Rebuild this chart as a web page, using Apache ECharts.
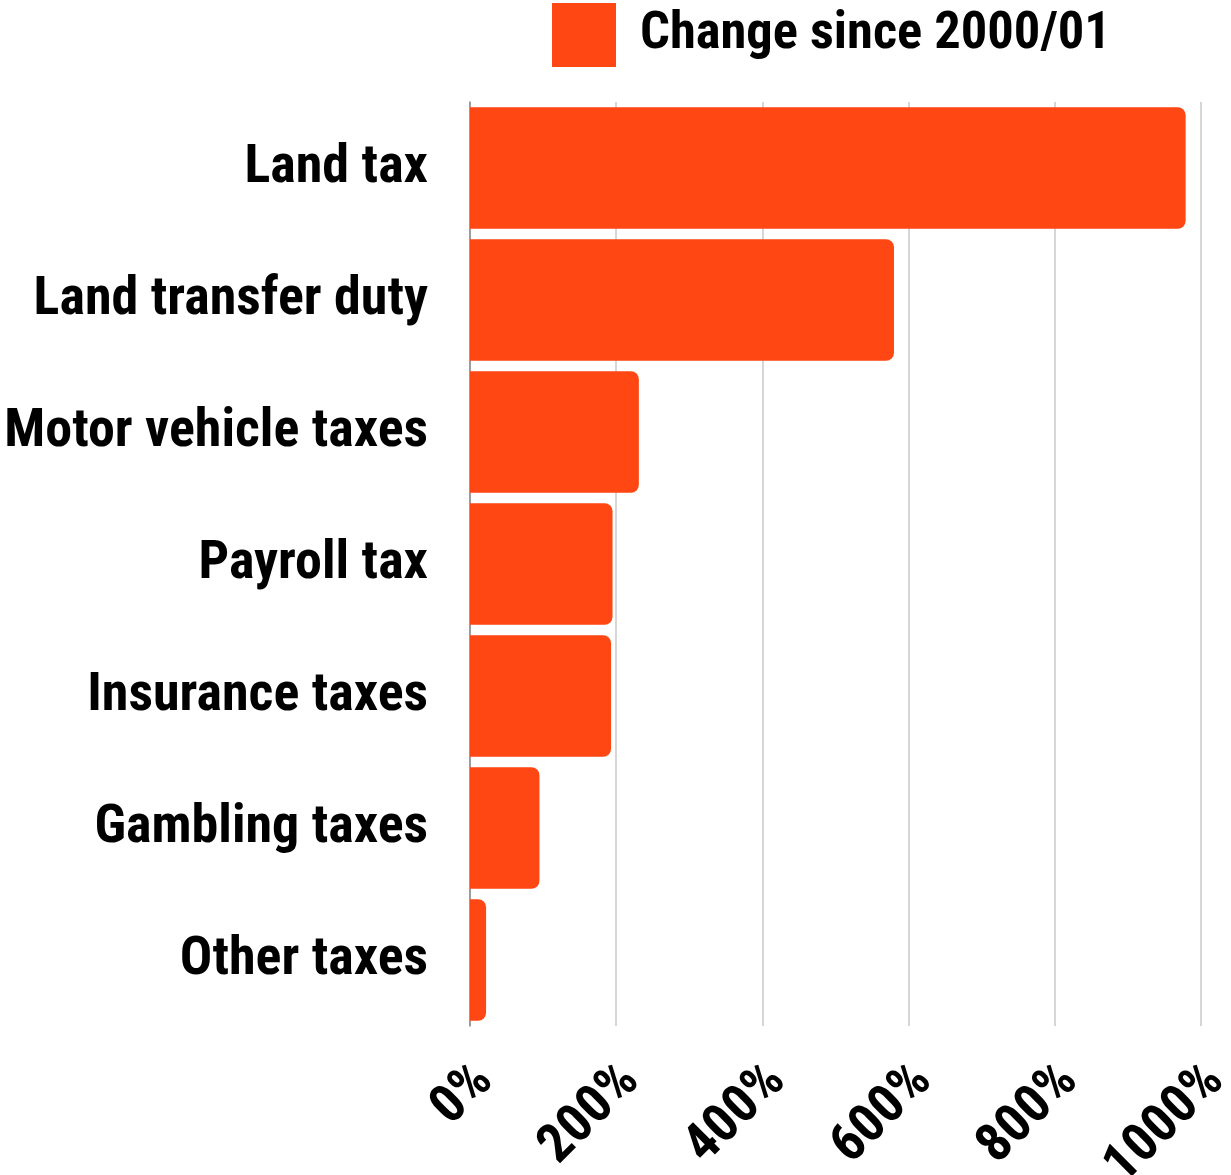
<!DOCTYPE html>
<html>
<head>
<meta charset="utf-8">
<script src="https://cdn.jsdelivr.net/npm/echarts@6/dist/echarts.min.js"></script>
<style>
html,body{margin:0;padding:0;background:#fff;}
#chart{width:1231px;height:1175px;}
</style>
</head>
<body>
<div id="chart"></div>
<script>
const categories = ["Land tax","Land transfer duty","Motor vehicle taxes","Payroll tax","Insurance taxes","Gambling taxes","Other taxes"];
const changeSince2000 = [979, 580, 231, 195, 193, 95, 22];
const seriesName = "Change since 2000/01";

const chart = echarts.init(document.getElementById('chart'), null, {renderer:'canvas'});
const condensed = '"Roboto Condensed","Liberation Sans Narrow","DejaVu Sans Condensed",sans-serif';
chart.setOption({
  animation:false,
  backgroundColor:'#ffffff',
  legend:{
    data:[seriesName],
    top:3, left:552, padding:0,
    itemWidth:64, itemHeight:64, itemGap:10,
    icon:'rect',
    textStyle:{fontFamily:condensed, fontWeight:'bold', fontSize:52.5, color:'#000', padding:[0,0,0,19]}
  },
  grid:{left:470, right:30, top:102, bottom:149, containLabel:false, outerBoundsMode:'none'},
  xAxis:{
    type:'value', min:0, max:1000, interval:200,
    axisLine:{show:false},
    axisTick:{show:false},
    splitLine:{show:true, lineStyle:{color:'#c8c8c8', width:1.5}},
    axisLabel:{
      formatter:function(v){return v + '%';}, rotate:45, margin:62,
      padding:[0,-21,0,0],
      fontFamily:condensed, fontWeight:'bold',
      fontSize:54, color:'#000'
    }
  },
  yAxis:{
    type:'category', data:categories, inverse:true,
    axisLine:{show:true, lineStyle:{color:'#888', width:1.5}},
    axisTick:{show:false},
    axisLabel:{fontFamily:condensed, fontWeight:'bold', fontSize:54, color:'#000', margin:42}
  },
  series:[{
    name:seriesName, type:'bar', data:changeSince2000,
    barCategoryGap:'8%',
    itemStyle:{color:'#FF4713', borderRadius:[0,8,8,0]}
  }]
});
</script>
</body>
</html>
